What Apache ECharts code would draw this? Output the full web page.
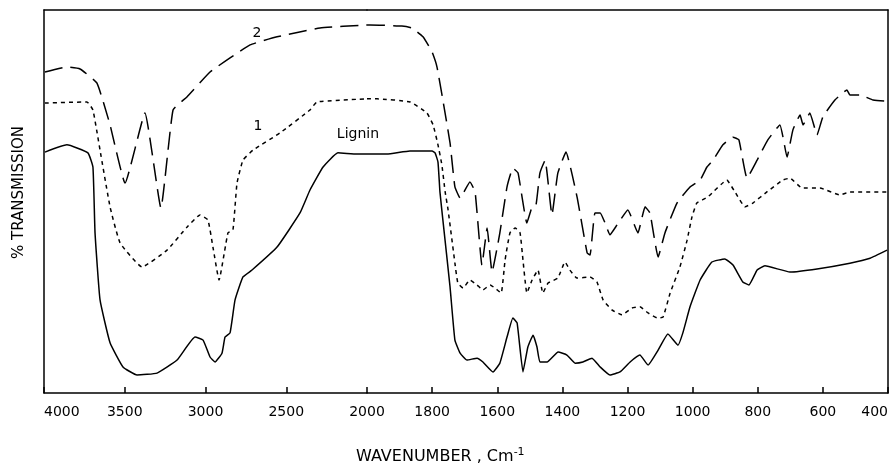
<!DOCTYPE html>
<html><head><meta charset="utf-8">
<script src="https://cdn.jsdelivr.net/npm/echarts@6/dist/echarts.min.js"></script>
<style>html,body{margin:0;padding:0;background:#fff}#c{width:893px;height:464px}</style>
</head><body><div id="c"></div>
<script>
// Curve 2 (long dashes)
var wave2 = [3994,3858,3777,3672,3591,3498,3375,3276,3201,3115,2972,2848,2724,2557,2291,2000,1991,1893,1862,1828,1800,1785,1767,1745,1730,1714,1684,1668,1647,1631,1616,1592,1570,1552,1536,1509,1493,1481,1469,1453,1432,1414,1389,1355,1324,1315,1300,1284,1269,1254,1232,1199,1168,1146,1131,1106,1085,1048,1008,977,956,937,907,876,858,833,802,769,732,710,692,670,661,640,618,600,563,526,517,486,446,409,400];
var trans2 = [83.8,85.1,84.6,80.9,70.0,54.8,73.1,48.3,73.9,77.3,83.8,87.5,90.9,93.0,95.3,96.1,96.1,95.8,95.3,93.0,89.0,85.1,76.5,65.3,53.8,50.9,55.1,52.5,33.4,43.1,31.6,41.8,53.8,58.7,57.4,44.4,48.6,49.1,57.4,60.8,46.5,57.4,62.9,51.2,36.6,36.0,47.0,47.0,44.4,41.3,43.9,47.8,41.8,48.6,47.0,35.5,41.8,49.6,53.8,55.6,59.0,60.8,64.8,66.8,66.1,56.1,60.8,66.1,70.0,61.6,68.7,72.6,70.0,73.1,67.4,72.1,76.5,79.1,77.8,77.8,76.5,76.2,76.2];
// Curve 1 (short dashes)
var wave1 = [3994,3734,3697,3653,3591,3529,3393,3238,3115,3034,2985,2954,2916,2861,2830,2805,2768,2706,2539,2353,2310,2000,1969,1868,1816,1797,1782,1770,1760,1751,1730,1721,1705,1684,1662,1644,1622,1607,1588,1576,1561,1545,1530,1521,1509,1493,1475,1460,1444,1414,1392,1377,1355,1315,1294,1275,1248,1217,1186,1162,1137,1109,1091,1069,1039,1017,1002,987,953,895,870,839,815,772,723,701,664,609,548,517,400];
var trans1 = [75.7,76.0,73.9,63.4,48.6,39.2,32.9,37.3,43.3,46.5,45.2,38.1,29.5,41.8,42.6,54.8,60.8,63.4,67.9,73.9,76.0,76.8,76.8,76.0,73.1,70.0,64.8,59.5,52.5,47.8,33.9,28.7,27.4,29.5,28.2,26.9,28.2,27.4,26.1,34.7,41.8,43.1,41.8,34.7,26.1,29.5,32.1,26.1,28.7,30.0,34.2,32.1,30.0,30.3,29.0,24.3,21.7,20.4,22.2,22.5,20.9,19.6,19.8,26.1,32.9,39.9,46.0,49.6,51.2,55.6,52.5,48.6,49.6,52.5,55.6,56.1,53.5,53.5,51.7,52.5,52.5];
// Lignin (solid)
var waveL = [3994,3858,3728,3697,3684,3653,3591,3511,3424,3300,3176,3065,3015,2972,2941,2898,2879,2848,2817,2768,2712,2557,2415,2353,2272,2180,2062,2000,1939,1868,1800,1791,1782,1776,1767,1745,1730,1714,1693,1662,1644,1613,1592,1570,1552,1539,1521,1506,1490,1478,1469,1447,1413,1386,1361,1337,1309,1284,1254,1223,1192,1162,1137,1106,1076,1045,1030,1008,977,941,901,876,846,827,802,778,701,618,517,455,403];
var transL = [62.9,64.8,62.7,59.0,41.8,24.3,13.1,6.8,4.7,5.2,8.6,14.6,13.8,9.4,8.1,10.4,14.6,15.7,24.3,30.3,32.1,38.1,47.0,53.0,59.0,62.7,62.4,62.4,62.4,63.2,63.2,62.7,60.3,52.5,45.2,27.7,13.8,10.4,8.6,9.1,8.1,5.5,7.8,14.6,19.6,18.3,5.5,12.0,15.1,12.0,8.1,8.1,10.7,9.9,7.8,8.1,9.1,6.8,4.7,5.5,8.1,9.9,7.3,11.2,15.4,12.5,15.7,22.5,29.5,34.2,35.0,33.4,29.0,28.2,32.1,33.2,31.6,32.4,33.9,35.2,37.3];
var curveLabels = ['2','1','Lignin'];

function pairs(w, t, lo, hi) {
  var out = [];
  for (var i = 0; i < w.length; i++) if (w[i] >= lo && w[i] <= hi) out.push([w[i], t[i]]);
  return out;
}
var FONT = 'DejaVu Sans';
var axisLineStyle = {show: true, onZero: false, lineStyle: {color: '#000', width: 1.5}};
function bottomAxis(grid, min, max, interval, extra) {
  var a = {
    type: 'value', gridIndex: grid, min: min, max: max, interval: interval, inverse: true,
    position: 'bottom', axisLine: axisLineStyle,
    axisTick: {show: true, inside: true, length: 6, lineStyle: {color: '#000', width: 1.5}},
    axisLabel: {color: '#000', fontFamily: FONT, fontSize: 14, margin: 12,
      formatter: function (v) { return String(v); }},
    splitLine: {show: false}
  };
  for (var k in extra) a.axisLabel[k] = extra[k];
  return a;
}
function topAxis(grid, min, max) {
  return {type: 'value', gridIndex: grid, min: min, max: max, inverse: true, position: 'top',
    axisLine: axisLineStyle, axisTick: {show: false}, axisLabel: {show: false}, splitLine: {show: false}};
}
function line(grid, data, type) {
  return {type: 'line', xAxisIndex: grid, yAxisIndex: grid, data: data, symbol: 'none', smooth: 0.12,
    silent: true, animation: false,
    lineStyle: {color: '#000', width: 1.5, type: type}};
}
var s2a = line(0, pairs(wave2, trans2, 2000, 4000), [18, 8]);
var s2b = line(1, pairs(wave2, trans2, 0, 2000), [18, 8]);
var s1a = line(0, pairs(wave1, trans1, 2000, 4000), [4, 4]);
var s1b = line(1, pairs(wave1, trans1, 0, 2000), [4, 4]);
var sLa = line(0, pairs(waveL, transL, 2000, 4000), 'solid');
var sLb = line(1, pairs(waveL, transL, 0, 2000), 'solid');
var lblStyle = {show: true, color: '#000', fontFamily: FONT, fontSize: 14, position: 'inside'};
sLa.markPoint = {symbol: 'circle', symbolSize: 1, itemStyle: {color: 'rgba(0,0,0,0)'}, silent: true,
  data: [
    {coord: [2681, 94.0], label: Object.assign({formatter: curveLabels[0]}, lblStyle)},
    {coord: [2675, 69.5], label: Object.assign({formatter: curveLabels[1]}, lblStyle)},
    {coord: [2056, 67.4], label: Object.assign({formatter: curveLabels[2]}, lblStyle)}
  ]};

var chart = echarts.init(document.getElementById('c'), null, {renderer: 'canvas'});
chart.setOption({
  animation: false,
  backgroundColor: '#fff',
  title: {text: 'WAVENUMBER , Cm{sup|-1}', left: 351, top: 442,
    textStyle: {color: '#000', fontFamily: FONT, fontSize: 16, fontWeight: 'normal',
      rich: {sup: {fontFamily: FONT, fontSize: 11, color: '#000', verticalAlign: 'top', padding: [0,0,8,0]}}}},
  grid: [
    {left: 44, width: 323, top: 10, height: 383},
    {left: 367, width: 521, top: 10, height: 383}
  ],
  xAxis: [
    bottomAxis(0, 2000, 4000, 500, {alignMaxLabel: 'left'}),
    bottomAxis(1, 400, 2000, 200, {showMaxLabel: false, alignMinLabel: 'right'}),
    topAxis(0, 2000, 4000),
    topAxis(1, 400, 2000)
  ],
  yAxis: [
    {type: 'value', gridIndex: 0, min: 0, max: 100, position: 'left', axisLine: axisLineStyle,
      axisTick: {show: false}, axisLabel: {show: false}, splitLine: {show: false},
      name: '% TRANSMISSION', nameLocation: 'middle', nameRotate: 90, nameGap: 17,
      nameTextStyle: {color: '#000', fontFamily: FONT, fontSize: 15, padding: [0, 0, 0, 18]}},
    {type: 'value', gridIndex: 1, min: 0, max: 100, position: 'right', axisLine: axisLineStyle,
      axisTick: {show: false}, axisLabel: {show: false}, splitLine: {show: false}}
  ],
  series: [s2a, s2b, s1a, s1b, sLa, sLb]
});
</script></body></html>
